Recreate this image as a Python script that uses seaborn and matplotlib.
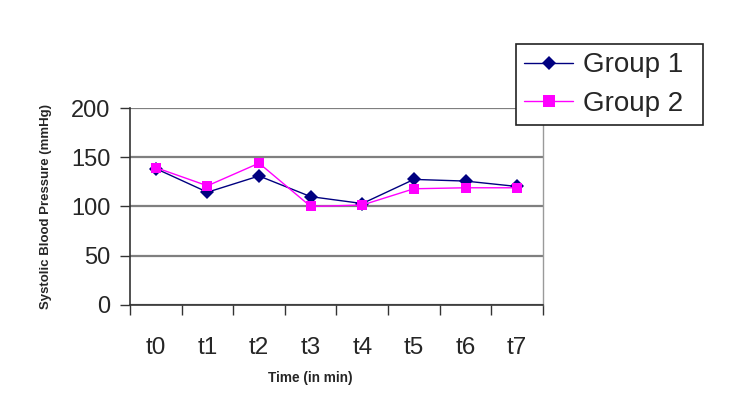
import pandas as pd
import numpy as np
import matplotlib
matplotlib.use("Agg")
import matplotlib.pyplot as plt
import seaborn as sns

# values
times = ["t0", "t1", "t2", "t3", "t4", "t5", "t6", "t7"]
group1 = [138.5, 114.5, 131, 110, 103, 127.5, 125.8, 120.3]
group2 = [139.5, 121, 144, 100, 101.5, 118, 119, 119]
yticks = [0, 50, 100, 150, 200]

df = pd.DataFrame({
    "pos": list(range(len(times))) * 2,
    "bp": group1 + group2,
    "group": ["Group 1"] * len(times) + ["Group 2"] * len(times),
})

sns.set_style("white")
plt.rcParams["font.family"] = ["Liberation Sans", "DejaVu Sans"]

fig = plt.figure(figsize=(7.5, 4.05), dpi=100)
ax = fig.add_axes([0.1733, 0.247, 0.5507, 0.4863])

palette = {"Group 1": "#000080", "Group 2": "#FF00FF"}
sns.lineplot(data=df, x="pos", y="bp", hue="group", style="group",
             markers={"Group 1": "D", "Group 2": "s"}, dashes=False,
             palette=palette, linewidth=1.0, markersize=7,
             markeredgewidth=0, ax=ax, legend=False)

ax.set_xlim(-0.5, len(times) - 0.5)
ax.set_ylim(0, 200)
ax.set_yticks(yticks)
ax.set_yticklabels([str(v) for v in yticks], fontsize=17)
ax.yaxis.grid(True, color="#7f7f7f", linewidth=1.6)
ax.set_axisbelow(True)

# category boundaries get the tick marks, centres get the labels
ax.set_xticks(np.arange(-0.5, len(times), 1.0))
ax.set_xticklabels([])
ax.set_xticks(np.arange(len(times)), minor=True)
ax.set_xticklabels(times, minor=True, fontsize=17.5)
ax.tick_params(axis="x", which="major", length=7, width=1, color="#333333", direction="out")
ax.tick_params(axis="x", which="minor", length=0, pad=23)
ax.tick_params(axis="y", length=7, width=1, color="#333333", pad=7, direction="out")
ax.xaxis.set_ticks_position("bottom")
ax.yaxis.set_ticks_position("left")

for s in ["left", "bottom"]:
    ax.spines[s].set_color("#333333")
    ax.spines[s].set_linewidth(1.2)
ax.spines["right"].set_color("#9a9a9a")
ax.spines["right"].set_linewidth(1.0)
ax.spines["top"].set_visible(False)

ax.set_xlabel("Time (in min)", fontsize=9.8, fontweight="bold")
ax.set_ylabel("Systolic Blood Pressure (mmHg)", fontsize=9.5, fontweight="bold")
ax.xaxis.set_label_coords(0.436, -0.335)
ax.yaxis.set_label_coords(-0.19, 0.5)

handles = [
    plt.Line2D([], [], color="#000080", marker="D", markersize=7.5, markeredgewidth=0, linewidth=1.0),
    plt.Line2D([], [], color="#FF00FF", marker="s", markersize=8, markeredgewidth=0, linewidth=1.0),
]
leg = fig.legend(handles, ["Group 1", "Group 2"], loc="upper left", mode="expand",
                 bbox_to_anchor=(516 / 750, 0.5, 187 / 750, 1 - 44 / 405 - 0.5),
                 fontsize=20, frameon=True,
                 fancybox=False, shadow=False, framealpha=1, edgecolor="#222222",
                 handlelength=1.75, borderpad=0.3, labelspacing=0.45, handletextpad=0.35,
                 borderaxespad=0)
leg.get_frame().set_linewidth(1.2)

fig.savefig("out.png", dpi=100)
